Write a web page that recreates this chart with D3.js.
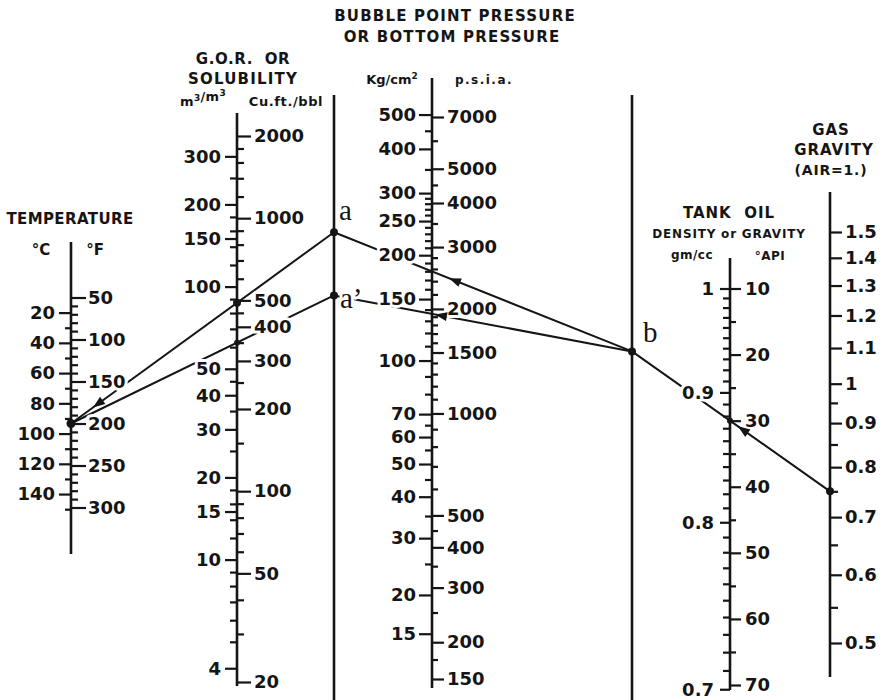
<!DOCTYPE html>
<html>
<head>
<meta charset="utf-8">
<script src="https://cdn.jsdelivr.net/npm/d3@7"></script>
<style>
  body { margin: 0; background: #fff; }
  svg { display: block; font-family: "DejaVu Sans", sans-serif; font-weight: bold; }
</style>
</head>
<body>
<div id="chart"></div>
<script>
// ---- scale graduations (labelled) ----
const tempCLabels = [20, 40, 60, 80, 100, 120, 140];
const tempFLabels = [50, 100, 150, 200, 250, 300];
const gorM3Labels = [4, 10, 15, 20, 30, 40, 50, 100, 150, 200, 300];
const gorCuftLabels = [20, 50, 100, 200, 300, 400, 500, 1000, 2000];
const pressKgLabels = [15, 20, 30, 40, 50, 60, 70, 100, 150, 200, 250, 300, 400, 500];
const pressPsiLabels = [150, 200, 300, 400, 500, 1000, 1500, 2000, 3000, 4000, 5000, 7000];
const oilDensityLabels = [1, 0.9, 0.8, 0.7];
const oilApiLabels = [10, 20, 30, 40, 50, 60, 70];
const gasGravityLabels = [0.5, 0.6, 0.7, 0.8, 0.9, 1, 1.1, 1.2, 1.3, 1.4, 1.5];

// ---- scale graduations (small ticks) ----
const tempCMinor = [30, 50, 70, 90, 110, 130, 150];
const tempFMinor = [60, 70, 80, 90, 110, 120, 130, 140, 160, 170, 180, 190, 210, 220, 230, 240, 260, 270, 280, 290];
const gorM3Minor = [5, 6, 7, 8, 9, 12, 14, 16, 18, 25, 35, 45, 60, 70, 80, 90, 120, 140, 160, 180, 250];
const gorCuftMinor = [30, 40, 60, 70, 80, 90, 150, 250, 350, 450, 600, 700, 800, 900, 1200, 1400, 1600, 1800];
const pressKgMinor = [25, 35, 45, 55, 65, 80, 90, 110, 120, 130, 140, 160, 170, 180, 190, 210, 220, 230, 240, 260, 270, 280, 290, 350, 450];
const pressPsiMinor = [175, 250, 350, 450, 600, 700, 800, 900, 1100, 1200, 1300, 1400, 1600, 1700, 1800, 1900, 2200, 2400, 2600, 2800, 3500, 4500, 6000];
const oilDensityMinor = [0.99, 0.98, 0.97, 0.96, 0.95, 0.94, 0.93, 0.92, 0.91, 0.89, 0.88, 0.87, 0.86, 0.85, 0.84, 0.83, 0.82, 0.81, 0.79, 0.78, 0.77, 0.76, 0.75, 0.74, 0.73, 0.72, 0.71];
const oilApiMinor = [15, 25, 35, 45, 55, 65];
const gasGravityMinor = [0.55, 0.65, 0.75, 0.85, 0.95];

// ---- worked example ----
const exampleTempF = 200;
const exampleGorCuft = [490, 350];   // lines to a and a'
const exampleApi = 30;
const exampleGasGravity = 0.75;

const W = 889, H = 700;
const ink = '#151515';

// unit conversions
const fToC = f => (f - 32) / 1.8;
const M3_TO_CUFT = 5.615;
const KG_TO_PSI = 14.223;
const sgToApi = sg => 141.5 / sg - 131.5;
const pIndex = psi => Math.log10(psi / 18.2 + 2);

// column positions
const xTemp = 71, xGor = 237, xA = 334, xP = 432, xB = 632, xOil = 730, xGas = 830;

// scales
const yTempF = d3.scaleLinear().domain([50, 300]).range([297.5, 507.5]);
const yTempC = d3.scaleLinear().domain([fToC(50), fToC(300)]).range(yTempF.range());
const yGorCuft = d3.scaleLog().domain([20, 2000]).range([682, 136]);
const yGorM3 = d3.scaleLog().domain([20 / M3_TO_CUFT, 2000 / M3_TO_CUFT]).range(yGorCuft.range());
const yPress = d3.scaleLinear().domain([pIndex(150), pIndex(7000)]).range([679, 117]);
const yApi = d3.scaleLinear().domain([10, 70]).range([288.5, 685]);
const yGas = d3.scaleLog().domain([0.5, 1.5]).range([643, 232]);

const svg = d3.select('#chart').append('svg')
  .attr('width', W).attr('height', H)
  .style('background', '#fff');

const lineLayer = svg.append('g');
const textLayer = svg.append('g');
const axisLayer = svg.append('g');
const spineLayer = svg.append('g');
const markLayer = svg.append('g');

function halo(sel) {
  sel.attr('paint-order', 'stroke').attr('stroke', '#fff')
    .attr('stroke-width', 6).attr('stroke-linejoin', 'round');
}

// one side of a graduated scale
function ruler(x, scale, side, values, opts) {
  const toD = opts.map || (v => v);
  const labels = new Map(values.map(v => [toD(v), opts.format ? opts.format(v) : '']));
  const axis = (side === 'left' ? d3.axisLeft(scale) : d3.axisRight(scale))
    .tickValues(values.map(toD))
    .tickSize(opts.size)
    .tickSizeOuter(0)
    .tickPadding(opts.pad == null ? 3 : opts.pad)
    .tickFormat(d => labels.get(d));
  const g = axisLayer.append('g')
    .attr('transform', `translate(${x},0)`)
    .call(axis);
  g.select('.domain').remove();
  g.attr('font-family', null).attr('font-size', null).attr('color', ink);
  g.selectAll('.tick line').attr('stroke-width', opts.width || 2.2);
  g.selectAll('.tick text').style('font-size', '18px').call(halo);
  return g;
}

const num = v => String(v);

// temperature
ruler(xTemp, yTempF, 'right', tempFLabels, { size: 15, pad: 2, format: num });
ruler(xTemp, yTempF, 'right', tempFMinor, { size: 7 });
ruler(xTemp, yTempC, 'left', tempCLabels, { size: 12, pad: 4, format: num });
ruler(xTemp, yTempC, 'left', tempCMinor, { size: 6 });

// G.O.R.
ruler(xGor, yGorCuft, 'right', gorCuftLabels, { size: 14, pad: 3, format: num });
ruler(xGor, yGorCuft, 'right', gorCuftMinor, { size: 7 });
ruler(xGor, yGorM3, 'left', gorM3Labels, { size: 12, pad: 4, format: num });
ruler(xGor, yGorM3, 'left', gorM3Minor, { size: 7 });

// pressure
ruler(xP, yPress, 'right', pressPsiLabels, { size: 12, pad: 3, format: num, map: pIndex });
ruler(xP, yPress, 'right', pressPsiMinor, { size: 6, map: pIndex });
ruler(xP, yPress, 'left', pressKgLabels, { size: 13, pad: 3, format: num, map: v => pIndex(v * KG_TO_PSI) });
ruler(xP, yPress, 'left', pressKgMinor, { size: 7, map: v => pIndex(v * KG_TO_PSI) });

// tank oil
ruler(xOil, yApi, 'right', oilApiLabels, { size: 11, pad: 4, format: num });
ruler(xOil, yApi, 'right', oilApiMinor, { size: 6 });
ruler(xOil, yApi, 'left', oilDensityLabels, { size: 10, pad: 6, format: num, map: sgToApi });
ruler(xOil, yApi, 'left', oilDensityMinor, { size: 7, map: sgToApi });

// gas gravity
ruler(xGas, yGas, 'right', gasGravityLabels, { size: 12, pad: 3, format: v => v === 1 ? '1' : d3.format('.1f')(v) });
ruler(xGas, yGas, 'right', gasGravityMinor, { size: 8 });

// spines
const spines = [
  { x: xTemp, y0: 242, y1: 554 },
  { x: xGor, y0: 113, y1: 686 },
  { x: xA, y0: 95, y1: 700 },
  { x: xP, y0: 78, y1: 688 },
  { x: xB, y0: 95, y1: 700 },
  { x: xOil, y0: 258, y1: 690 },
  { x: xGas, y0: 192, y1: 677 }
];
spineLayer.selectAll('line.spine')
  .data(spines)
  .join('line')
  .attr('class', 'spine')
  .attr('x1', d => d.x).attr('x2', d => d.x)
  .attr('y1', d => d.y0).attr('y2', d => d.y1)
  .attr('stroke', ink)
  .attr('stroke-width', 2.6);

// ---- solution lines ----
function atX(p, q, x) {
  const t = (x - p[0]) / (q[0] - p[0]);
  return [x, p[1] + t * (q[1] - p[1])];
}
const pT = [xTemp, yTempF(exampleTempF)];
const pGor = exampleGorCuft.map(v => [xGor, yGorCuft(v)]);
const pA = pGor.map(g => atX(pT, g, xA));
const pGas = [xGas, yGas(exampleGasGravity)];
const pOil = [xOil, yApi(exampleApi)];
const pB = atX(pGas, pOil, xB);

const segments = [
  [pT, pA[0]],
  [pT, pA[1]],
  [pA[0], pB],
  [pA[1], pB],
  [pB, pGas]
];
lineLayer.selectAll('line.solution')
  .data(segments)
  .join('line')
  .attr('class', 'solution')
  .attr('x1', d => d[0][0]).attr('y1', d => d[0][1])
  .attr('x2', d => d[1][0]).attr('y2', d => d[1][1])
  .attr('stroke', ink)
  .attr('stroke-width', 2);

// dots
const dots = [
  { p: pT, r: 4.5 }, { p: pGor[0], r: 4 }, { p: pGor[1], r: 3 },
  { p: pA[0], r: 4 }, { p: pA[1], r: 4 }, { p: pB, r: 4 },
  { p: pOil, r: 3 }, { p: pGas, r: 4 }
];
markLayer.selectAll('circle.dot')
  .data(dots)
  .join('circle')
  .attr('class', 'dot')
  .attr('cx', d => d.p[0]).attr('cy', d => d.p[1])
  .attr('r', d => d.r)
  .attr('fill', ink);

// arrowheads, pointing to the left end of their segment
const arrows = [
  { seg: segments[0], x: 93 },
  { seg: segments[2], x: 449 },
  { seg: segments[3], x: 435 },
  { seg: segments[4], x: 738 }
];
markLayer.selectAll('polygon.arrow')
  .data(arrows)
  .join('polygon')
  .attr('class', 'arrow')
  .attr('fill', ink)
  .attr('points', d => {
    const [p, q] = d.seg;
    const tip = atX(p, q, d.x);
    const dx = p[0] - q[0], dy = p[1] - q[1];
    const len = Math.hypot(dx, dy);
    const ux = dx / len, uy = dy / len;
    const L = 12, w = 4.5;
    const bx = tip[0] - ux * L, by = tip[1] - uy * L;
    return [
      tip,
      [bx - uy * w, by + ux * w],
      [bx + uy * w, by - ux * w]
    ].map(c => c.join(',')).join(' ');
  });

// ---- texts ----
// "^n" marks a superscript digit
const headings = [
  { t: 'BUBBLE POINT PRESSURE', x: 455, y: 21, s: 15, ls: 1.2 },
  { t: 'OR BOTTOM PRESSURE', x: 452, y: 42, s: 15, ls: 1.2 },
  { t: 'G.O.R.  OR', x: 243, y: 64, s: 15, ls: 0.6 },
  { t: 'SOLUBILITY', x: 243, y: 84, s: 15, ls: 1.2 },
  { t: 'm^3/m^3', x: 203, y: 106, s: 13, ls: 0.3 },
  { t: 'Cu.ft./bbl', x: 286, y: 106, s: 13, ls: 0.6 },
  { t: 'TEMPERATURE', x: 70, y: 224, s: 15, ls: 0.4 },
  { t: '°C', x: 41, y: 255, s: 15, ls: 0 },
  { t: '°F', x: 95, y: 255, s: 15, ls: 0 },
  { t: 'Kg/cm^2', x: 392, y: 84, s: 13, ls: 0 },
  { t: 'p.s.i.a.', x: 484, y: 84, s: 12, ls: 1.5 },
  { t: 'TANK  OIL', x: 729, y: 218, s: 15, ls: 1 },
  { t: 'DENSITY or GRAVITY', x: 729, y: 238, s: 12, ls: 0.8 },
  { t: 'gm/cc', x: 692, y: 259, s: 12, ls: 0.5 },
  { t: '°API', x: 770, y: 260, s: 12, ls: 0.5 },
  { t: 'GAS', x: 831, y: 135, s: 15, ls: 1 },
  { t: 'GRAVITY', x: 834, y: 155, s: 15, ls: 1 },
  { t: '(AIR=1.)', x: 831, y: 175, s: 14, ls: 0.8 }
];
textLayer.selectAll('text.heading')
  .data(headings)
  .join('text')
  .attr('class', 'heading')
  .attr('x', d => d.x).attr('y', d => d.y)
  .attr('text-anchor', 'middle')
  .attr('fill', ink)
  .style('font-size', d => d.s + 'px')
  .style('letter-spacing', d => d.ls + 'px')
  .style('white-space', 'pre')
  .each(function (d) {
    const el = d3.select(this);
    d.t.split(/(\^\d)/).filter(s => s).forEach(part => {
      if (part[0] === '^') {
        el.append('tspan').attr('dy', -5).style('font-size', '9px').text(part.slice(1));
        el.append('tspan').attr('dy', 5).text('');
      } else {
        el.append('tspan').text(part);
      }
    });
  });

// point letters
const letters = [
  { t: 'a', x: pA[0][0] + 5, y: pA[0][1] - 12 },
  { t: 'a’', x: pA[1][0] + 6, y: pA[1][1] + 13 },
  { t: 'b', x: pB[0] + 11, y: pB[1] - 9 }
];
textLayer.selectAll('text.letter')
  .data(letters)
  .join('text')
  .attr('class', 'letter')
  .attr('x', d => d.x).attr('y', d => d.y)
  .attr('fill', ink)
  .style('font-family', '"Liberation Serif", "DejaVu Serif", serif')
  .style('font-weight', 'normal')
  .style('font-size', '29px')
  .text(d => d.t)
  .call(halo);
</script>
</body>
</html>
